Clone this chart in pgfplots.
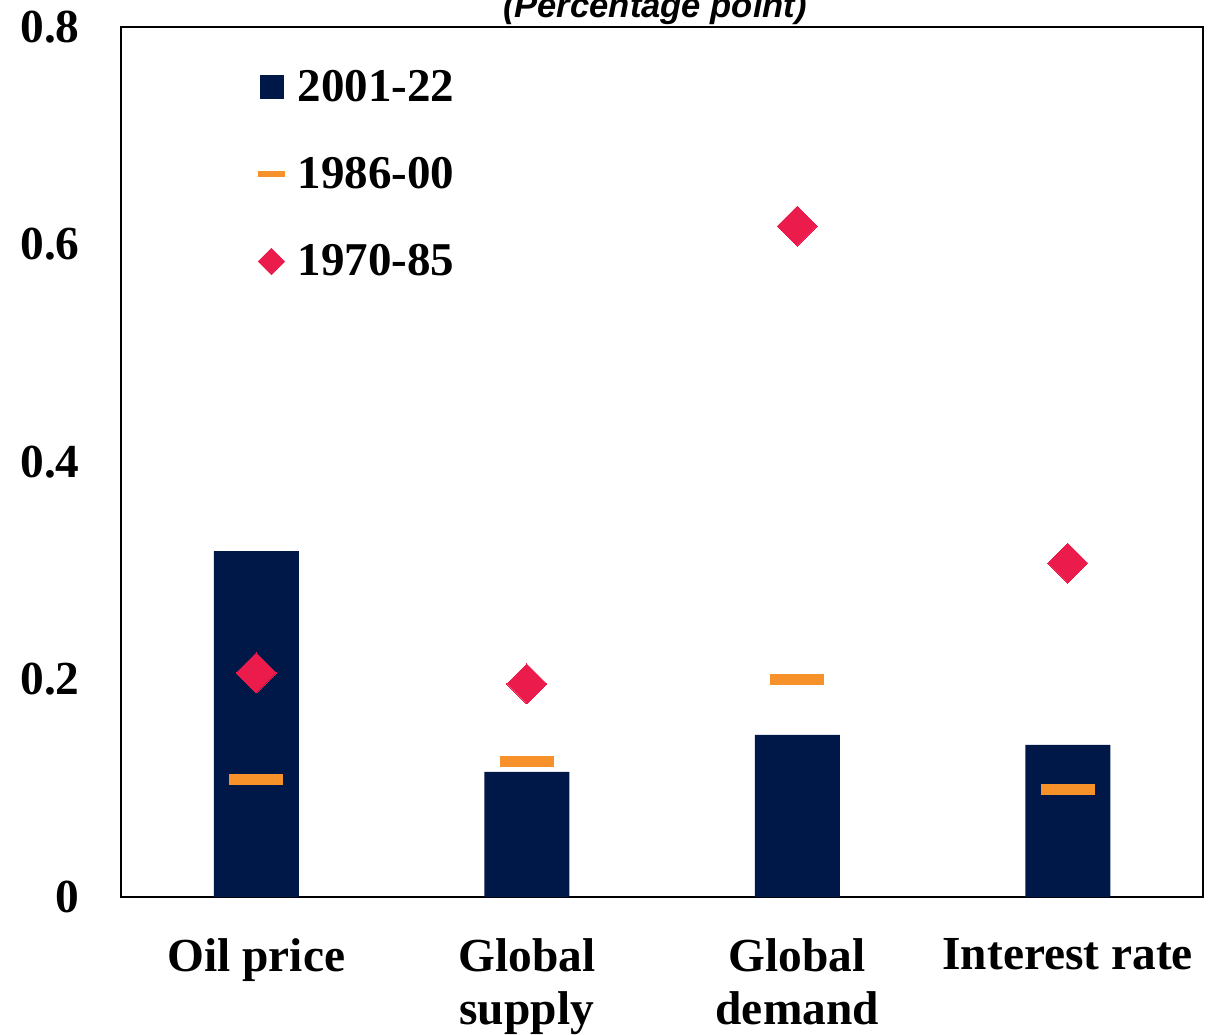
\documentclass[border=0pt]{standalone}
\usepackage{pgfplots}
\pgfplotsset{compat=1.18}
\usepackage{fontspec}
\setmainfont{Liberation Serif}
\newfontfamily\titlefont{Liberation Sans}
\definecolor{navy}{RGB}{0,24,72}
\definecolor{barorange}{RGB}{247,146,42}
\definecolor{crimson}{RGB}{235,28,75}
\begin{document}
\begin{tikzpicture}
\begin{axis}[
  width=541pt, height=435pt, scale only axis,
  xmin=-0.5, xmax=3.5, ymin=0, ymax=0.8,
  xtick={0,1,2,3},
  xticklabels={Oil price, Global\\supply, Global\\demand, Interest rate},
  ytick={0,0.2,0.4,0.6,0.8},
  major tick length=0pt,
  axis line style={line width=0.8pt},
  /pgf/number format/assume math mode=true,
  tick label style={font=\bfseries\fontsize{23.7}{26.5}\selectfont},
  xticklabel style={align=center, anchor=north, inner sep=0pt, yshift=-20.5pt},
  yticklabel style={anchor=east, inner sep=0pt, xshift=-20.5pt},
  title={\titlefont\bfseries\itshape (Percentage point)},
  title style={at={(0.5,1)}, anchor=base, yshift=-1.2pt, xshift=-3.5pt, font=\fontsize{17.3}{20}\selectfont},
  legend style={draw=none, fill=none, at={(0.1238,0.9506)}, anchor=north west,
    inner sep=0pt, outer sep=0pt, row sep=26.5pt,
    font=\bfseries\fontsize{23.5}{26.5}\selectfont,
    nodes={inner sep=0pt},
    /tikz/every odd column/.append style={column sep=4.8pt}},
  legend cell align=left,
]
\addplot[ybar, bar width=42.5pt, bar shift=0pt, fill=navy, draw=none,
  legend image code/.code={\path[draw=none,fill=none] (0pt,-6.5pt) rectangle (13.5pt,6.5pt);
    \fill[navy] (1pt,-6pt) rectangle (13pt,6pt);}]
  coordinates {(0,0.318) (1,0.115) (2,0.149) (3,0.140)};
\addlegendentry{2001-22}
\addplot[only marks, color=barorange, mark=-, mark size=13.5pt, mark options={line width=5.5pt, draw=barorange},
  legend image code/.code={\path[draw=none,fill=none] (0pt,-6.5pt) rectangle (13.5pt,6.5pt);
    \draw[barorange, line width=3pt] (0pt,0pt) -- (13.5pt,0pt);}]
  coordinates {(0,0.108) (1,0.125) (2,0.200) (3,0.099)};
\addlegendentry{1986-00}
\addplot[only marks, color=crimson, mark=square*, mark size=7.07pt, mark options={rotate=45, fill=crimson, draw=crimson, line width=0pt},
  legend image code/.code={\path[draw=none,fill=none] (0pt,-6.5pt) rectangle (13.5pt,6.5pt);
    \fill[crimson] (6.75pt,6.5pt) -- (13.25pt,0pt) -- (6.75pt,-6.5pt) -- (0.25pt,0pt) -- cycle;}]
  coordinates {(0,0.206) (1,0.196) (2,0.617) (3,0.307)};
\addlegendentry{1970-85}
\coordinate (sw) at (rel axis cs:0,0);
\coordinate (ne) at (rel axis cs:1,1);
\end{axis}
\pgfresetboundingbox
\path[use as bounding box] ([shift={(-60.5pt,-68.5pt)}]sw) rectangle ([shift={(7.5pt,13.5pt)}]ne);
\end{tikzpicture}
\end{document}
